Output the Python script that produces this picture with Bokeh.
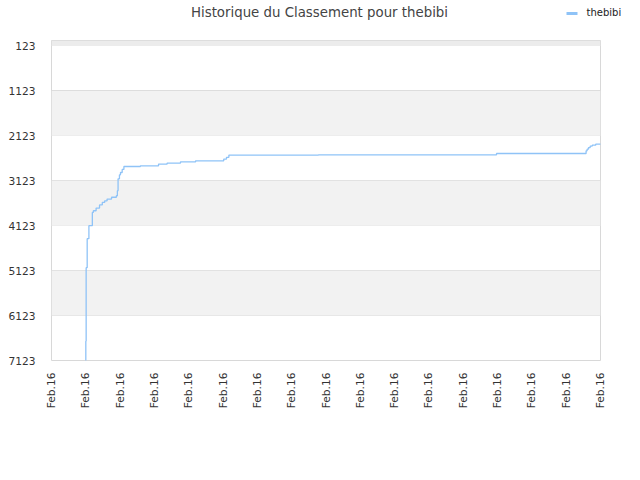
from bokeh.plotting import figure
from bokeh.models import Range1d, FixedTicker, BoxAnnotation
from bokeh.layouts import column
from bokeh.core.properties import value
from bokeh.embed import file_html
from bokeh.resources import INLINE

# Data (x in tick units, each tick labelled "Feb.16")
tick_positions = list(range(17))
tick_labels = ["Feb.16"] * 17
rank_ticks = [123, 1123, 2123, 3123, 4123, 5123, 6123, 7123]
title_text = "Historique du Classement pour thebibi"
series_name = "thebibi"

xs = [0.99, 1.00, 1.01, 1.04, 1.09, 1.19, 1.22, 1.30, 1.40, 1.48, 1.55, 1.62, 1.75,
      1.89, 1.92, 1.94, 1.98, 2.01, 2.06, 2.11, 2.59, 3.12, 3.37, 3.76, 4.20, 5.02,
      5.10, 5.17, 7.78, 12.97, 15.58, 15.61, 15.65, 15.70, 15.76, 15.86, 16.0]
ranks = [7123, 6694, 5056, 4412, 4123, 3827, 3790, 3730, 3660, 3605, 3570, 3530, 3490,
         3456, 3345, 3079, 2990, 2939, 2870, 2805, 2790, 2752, 2730, 2701, 2679, 2641,
         2600, 2552, 2545, 2516, 2456, 2420, 2383, 2350, 2330, 2308, 2300]

FONT = "DejaVu Sans"
LINE_COLOR = "#8fc3f7"

# ---- header (title + legend) ----
h = figure(width=640, height=40, output_backend="svg", toolbar_location=None,
           x_range=Range1d(0, 640), y_range=Range1d(40, 0),
           x_axis_type=None, y_axis_type=None,
           min_border_left=0, min_border_right=0, min_border_top=0, min_border_bottom=0)
h.frame_align = False
h.outline_line_color = None
h.grid.visible = False
h.background_fill_color = "white"
h.border_fill_color = "white"
h.text(x=[319], y=[12], text=[title_text], text_align="center", text_baseline="middle",
       text_font=value(FONT), text_font_size=value("10pt"), text_color="#444444")
h.segment(x0=[566], y0=[13], x1=[577], y1=[13], line_color=LINE_COLOR, line_width=3)
h.text(x=[586], y=[12], text=[series_name], text_align="left", text_baseline="middle",
       text_font=value(FONT), text_font_size=value("7.5pt"), text_color="#222222")

# ---- main chart ----
p = figure(width=640, height=440, output_backend="svg", toolbar_location=None,
           x_range=Range1d(0, 16), y_range=Range1d(7123, 1),
           min_border_left=51, min_border_right=40, min_border_top=0, min_border_bottom=120)
p.frame_align = False
p.background_fill_color = "white"
p.border_fill_color = "white"
p.outline_line_color = "#d8d8d8"
p.outline_line_width = 1

# alternating bands
for top, bot in [(1, 123), (1123, 2123), (3123, 4123), (5123, 6123)]:
    p.add_layout(BoxAnnotation(top=top, bottom=bot, fill_color="#f2f2f2" if top != 1 else "#ececec",
                               fill_alpha=1.0, line_color=None, level="underlay"))

p.step(xs, ranks, mode="after", line_color=LINE_COLOR, line_width=1.3)

p.xaxis.ticker = FixedTicker(ticks=tick_positions)
p.xaxis.major_label_overrides = {t: l for t, l in zip(tick_positions, tick_labels)}
p.xaxis.major_label_orientation = 1.5708
p.yaxis.ticker = FixedTicker(ticks=rank_ticks)
for ax in (p.xaxis[0], p.yaxis[0]):
    ax.axis_line_color = None
    ax.major_tick_line_color = None
    ax.minor_tick_line_color = None
    ax.major_label_text_font = FONT
    ax.major_label_text_font_size = "8pt"
    ax.major_label_text_color = "#333333"
p.xaxis.major_label_standoff = 6
p.yaxis.major_label_standoff = 10

p.xgrid.grid_line_color = None
p.ygrid.ticker = FixedTicker(ticks=rank_ticks)
p.ygrid.grid_line_color = "#dddddd"
p.ygrid.grid_line_width = 1

layout = column(h, p, spacing=0)
open("out.html", "w").write(file_html(layout, INLINE))
